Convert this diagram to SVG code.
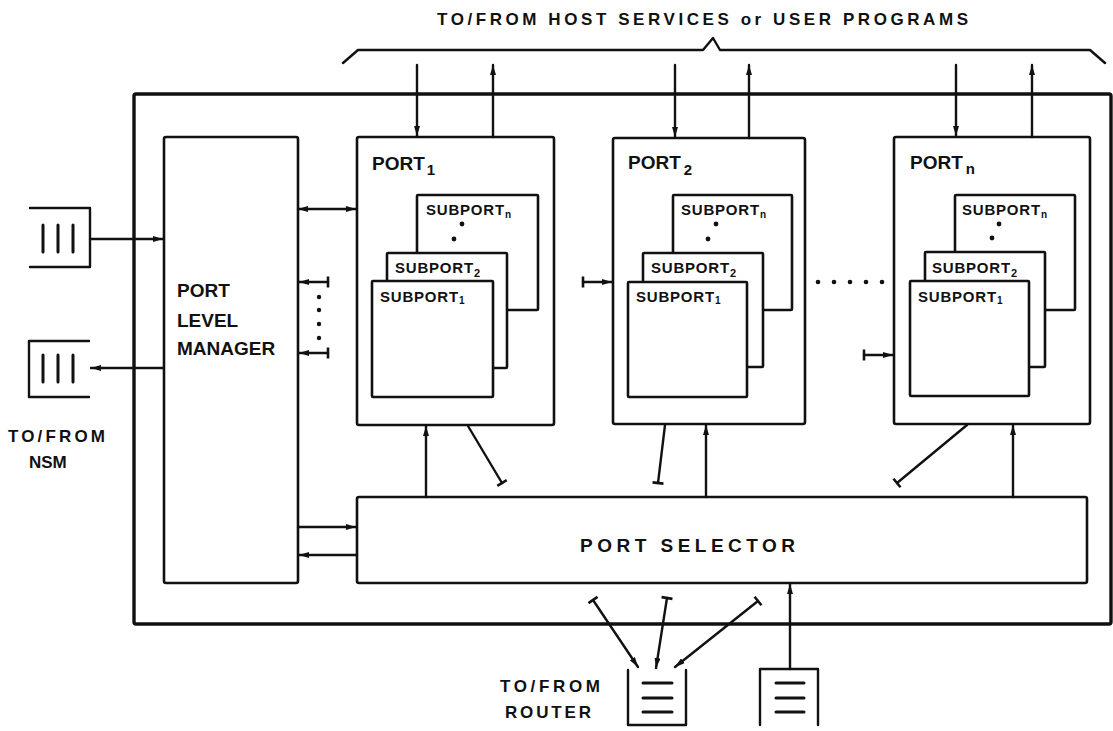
<svg xmlns="http://www.w3.org/2000/svg" width="1113" height="731" viewBox="0 0 1113 731">
<style>
  .box{fill:#fff;stroke:#111;stroke-width:2.6;stroke-linejoin:round}
  .outer{fill:none;stroke:#111;stroke-width:3.4}
  .ln{fill:none;stroke:#111;stroke-width:2.4;stroke-linecap:round;stroke-linejoin:round}
  .bar{stroke:#111;stroke-width:3;stroke-linecap:round}
  .t{font-family:"Liberation Sans",Arial,sans-serif;font-weight:bold;fill:#111}
  .big{font-size:19px}
  .mid{font-size:17px}
  .sm{font-size:15px}
  .arr{marker-end:url(#ah)}
  .tk{marker-start:url(#tick)}
  .tke{marker-end:url(#tick)}
</style>
<defs>
  <marker id="ah" viewBox="0 0 10 6" refX="10" refY="3" markerWidth="10" markerHeight="6" markerUnits="userSpaceOnUse" orient="auto-start-reverse">
    <path d="M0,0 L10,3 L0,6 z" fill="#111"/>
  </marker>
  <marker id="tick" viewBox="-2 -6 4 12" refX="0" refY="0" markerWidth="4" markerHeight="12" markerUnits="userSpaceOnUse" orient="auto">
    <path d="M0,-5.5 L0,5.5" stroke="#111" stroke-width="2.6"/>
  </marker>
</defs>
<rect width="1113" height="731" fill="#fff"/>

<g id="title">
  <text class="t mid" x="437" y="25" textLength="531" lengthAdjust="spacing">TO/FROM  HOST  SERVICES  or  USER  PROGRAMS</text>
  <path class="ln" d="M343,63 L358,50 L703,50 L713,38 L720,50 L1090,50 L1105,63"/>
</g>

<g id="outer-box">
  <rect class="outer" x="134" y="94" width="977" height="530" rx="2"/>
</g>

<g id="port-level-manager">
  <rect class="box" x="164" y="137" width="134" height="446" rx="2"/>
  <text class="t big" x="177" y="297">PORT</text>
  <text class="t big" x="177" y="327">LEVEL</text>
  <text class="t big" x="177" y="355">MANAGER</text>
</g>

<g id="port1">
  <rect class="box" x="357" y="137" width="197" height="288" rx="2"/>
  <text class="t big" x="372" y="170">PORT<tspan class="sm" dy="5" dx="2">1</tspan></text>
  <rect class="box" x="417" y="195" width="121" height="115" rx="1"/>
  <text class="t sm" x="426" y="215" letter-spacing="0.8">SUBPORT<tspan font-size="10" dy="3">n</tspan></text>
  <circle cx="462" cy="224" r="2.4" fill="#111"/>
  <circle cx="454" cy="239" r="2.4" fill="#111"/>
  <rect class="box" x="387" y="253" width="120" height="115" rx="1"/>
  <text class="t sm" x="395" y="273" letter-spacing="0.8">SUBPORT<tspan font-size="11" dy="4">2</tspan></text>
  <rect class="box" x="372" y="281" width="121" height="116" rx="1"/>
  <text class="t sm" x="380" y="302" letter-spacing="0.8">SUBPORT<tspan font-size="10" dy="2">1</tspan></text>
</g>

<g id="port2">
  <rect class="box" x="613" y="138" width="192" height="286" rx="2"/>
  <text class="t big" x="628" y="169">PORT<tspan class="sm" dy="6" dx="3">2</tspan></text>
  <rect class="box" x="673" y="195" width="119" height="115" rx="1"/>
  <text class="t sm" x="681" y="215" letter-spacing="0.8">SUBPORT<tspan font-size="10" dy="3">n</tspan></text>
  <circle cx="716" cy="224" r="2.4" fill="#111"/>
  <circle cx="708" cy="239" r="2.4" fill="#111"/>
  <rect class="box" x="643" y="253" width="120" height="114" rx="1"/>
  <text class="t sm" x="651" y="273" letter-spacing="0.8">SUBPORT<tspan font-size="11" dy="4">2</tspan></text>
  <rect class="box" x="628" y="282" width="119" height="115" rx="1"/>
  <text class="t sm" x="636" y="302" letter-spacing="0.8">SUBPORT<tspan font-size="10" dy="2">1</tspan></text>
</g>

<g id="portn">
  <rect class="box" x="894" y="137" width="196" height="287" rx="2"/>
  <text class="t big" x="910" y="169">PORT<tspan class="sm" dy="5" dx="3">n</tspan></text>
  <rect class="box" x="955" y="195" width="120" height="115" rx="1"/>
  <text class="t sm" x="962" y="215" letter-spacing="0.8">SUBPORT<tspan font-size="10" dy="3">n</tspan></text>
  <circle cx="999" cy="224" r="2.4" fill="#111"/>
  <circle cx="992" cy="238" r="2.4" fill="#111"/>
  <rect class="box" x="925" y="252" width="120" height="115" rx="1"/>
  <text class="t sm" x="932" y="273" letter-spacing="0.8">SUBPORT<tspan font-size="11" dy="4">2</tspan></text>
  <rect class="box" x="910" y="281" width="119" height="115" rx="1"/>
  <text class="t sm" x="918" y="302" letter-spacing="0.8">SUBPORT<tspan font-size="10" dy="2">1</tspan></text>
</g>

<g id="port-dots">
  <circle cx="818" cy="282" r="2.3" fill="#111"/>
  <circle cx="834" cy="282" r="2.3" fill="#111"/>
  <circle cx="850" cy="282" r="2.3" fill="#111"/>
  <circle cx="866" cy="282" r="2.3" fill="#111"/>
  <circle cx="882" cy="282" r="2.3" fill="#111"/>
</g>

<g id="plm-dots">
  <circle cx="319" cy="297" r="2.2" fill="#111"/>
  <circle cx="319" cy="310" r="2.2" fill="#111"/>
  <circle cx="319" cy="324" r="2.2" fill="#111"/>
  <circle cx="319" cy="338" r="2.2" fill="#111"/>
</g>

<g id="port-selector">
  <rect class="box" x="357" y="497" width="730" height="86" rx="2"/>
  <text class="t big" x="580" y="552" textLength="215" lengthAdjust="spacing">PORT  SELECTOR</text>
</g>

<g id="nsm-queue-in">
  <path class="ln" d="M30,208 L90,208 L90,267 L30,267"/>
  <line class="bar" x1="43" y1="225" x2="43" y2="252"/>
  <line class="bar" x1="58" y1="225" x2="58" y2="252"/>
  <line class="bar" x1="73" y1="225" x2="73" y2="252"/>
</g>
<g id="nsm-queue-out">
  <path class="ln" d="M89,341 L29,341 L29,397 L89,397"/>
  <line class="bar" x1="43" y1="355" x2="43" y2="382"/>
  <line class="bar" x1="58" y1="355" x2="58" y2="382"/>
  <line class="bar" x1="73" y1="355" x2="73" y2="382"/>
</g>
<g id="nsm-label">
  <text class="t mid" x="8" y="442" textLength="97" lengthAdjust="spacing">TO/FROM</text>
  <text class="t mid" x="29" y="468">NSM</text>
</g>

<g id="router-queue-1">
  <path class="ln" d="M628,670 L628,725 L686,725 L686,670"/>
  <line class="bar" x1="643" y1="683" x2="672" y2="683"/>
  <line class="bar" x1="643" y1="698" x2="672" y2="698"/>
  <line class="bar" x1="643" y1="712" x2="672" y2="712"/>
</g>
<g id="router-queue-2">
  <path class="ln" d="M760,725 L760,669 L818,669 L818,725"/>
  <line class="bar" x1="776" y1="683" x2="804" y2="683"/>
  <line class="bar" x1="776" y1="698" x2="804" y2="698"/>
  <line class="bar" x1="776" y1="712" x2="804" y2="712"/>
</g>
<g id="router-label">
  <text class="t mid" x="500" y="692" textLength="100" lengthAdjust="spacing">TO/FROM</text>
  <text class="t mid" x="505" y="718" textLength="86" lengthAdjust="spacing">ROUTER</text>
</g>

<g id="connectors">
  <line class="ln arr" x1="417" y1="65" x2="417" y2="136"/>
  <line class="ln arr" x1="493" y1="137" x2="493" y2="65"/>
  <line class="ln arr" x1="675" y1="65" x2="675" y2="137"/>
  <line class="ln arr" x1="749" y1="138" x2="749" y2="65"/>
  <line class="ln arr" x1="956" y1="65" x2="956" y2="136"/>
  <line class="ln arr" x1="1032" y1="137" x2="1032" y2="65"/>
  <line class="ln arr" x1="90" y1="239" x2="163" y2="239"/>
  <line class="ln arr" x1="163" y1="368" x2="91" y2="368"/>
  <line class="ln arr" x1="298" y1="209" x2="356" y2="209" marker-start="url(#ah)"/>
  <line class="ln tk arr" x1="328" y1="282" x2="299" y2="282"/>
  <line class="ln tk arr" x1="328" y1="353" x2="299" y2="353"/>
  <line class="ln tk arr" x1="583" y1="282" x2="612" y2="282"/>
  <line class="ln tk arr" x1="864" y1="355" x2="893" y2="355"/>
  <line class="ln arr" x1="298" y1="527" x2="356" y2="527"/>
  <line class="ln arr" x1="357" y1="555" x2="299" y2="555"/>
  <line class="ln arr" x1="426" y1="497" x2="426" y2="426"/>
  <line class="ln tke" x1="468" y1="426" x2="502" y2="483"/>
  <line class="ln tke" x1="665" y1="425" x2="658" y2="483"/>
  <line class="ln arr" x1="706" y1="497" x2="706" y2="425"/>
  <line class="ln tke" x1="967" y1="425" x2="897" y2="483"/>
  <line class="ln arr" x1="1013" y1="497" x2="1013" y2="425"/>
  <line class="ln tk arr" x1="593" y1="600" x2="638" y2="667"/>
  <line class="ln tk arr" x1="667" y1="598" x2="656" y2="668"/>
  <line class="ln tk arr" x1="758" y1="601" x2="675" y2="667"/>
  <line class="ln arr" x1="790" y1="669" x2="790" y2="584"/>
</g>
</svg>
